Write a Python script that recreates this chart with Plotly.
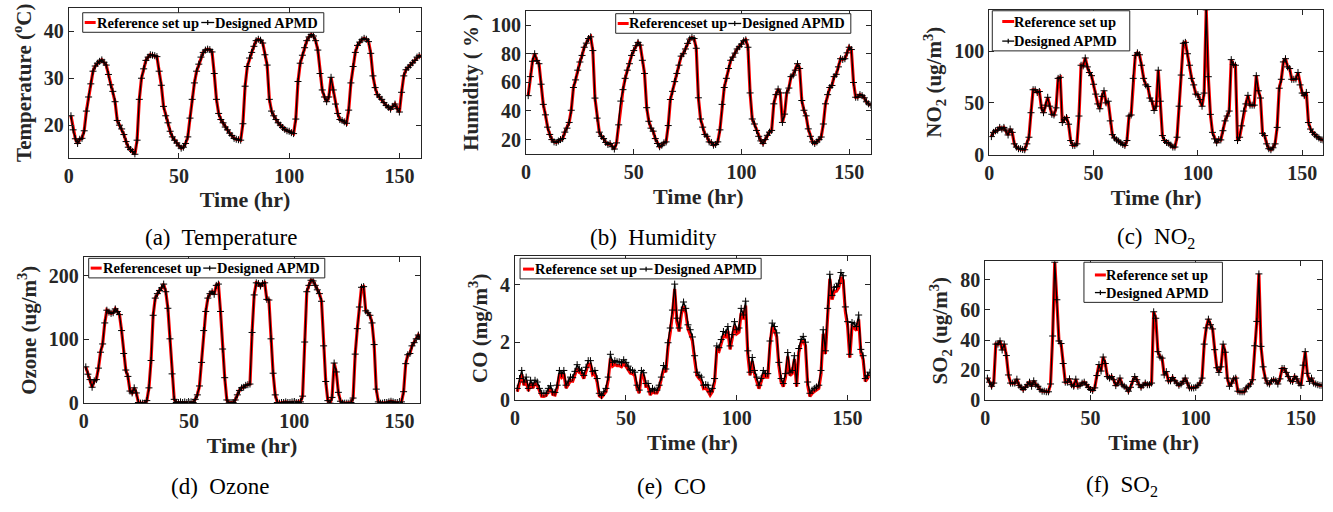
import plotly.graph_objects as go

hours = list(range(1, 161))

temperature = [22, 19, 17.1, 16.1, 17, 17.2, 18.8, 23, 26, 28.8,
               31.5, 32.6, 33.2, 33.6, 33.9, 33.4, 32.8, 30.8, 28.6, 27.2,
               25, 21, 20, 19.2, 18, 16.5, 15.3, 14.8, 14.4, 13.8,
               16.8, 25.5, 30, 32, 33.8, 34.5, 35, 34.9, 34.8, 34.6,
               31.5, 28.5, 24, 22, 20.5, 18.7, 17.5, 16.8, 16.2, 15.6,
               15.1, 15.3, 16.1, 17.5, 21.5, 25.5, 29, 31.5, 33, 34.5,
               35.5, 36, 36.2, 36.1, 35.6, 31, 25.5, 22.5, 21.2, 20.5,
               19.6, 19, 18.3, 17.8, 17.2, 17, 16.9, 16.8, 20.3, 28.3,
               32.5, 34.3, 35.5, 36.8, 38, 38.3, 38.1, 37.5, 35, 32.8,
               25.5, 23, 22, 21.2, 20.5, 20, 19.5, 19.1, 18.8, 18.7,
               18.4, 18.2, 21.3, 29.3, 33.2, 34.9, 36.5, 38, 38.8, 39.3,
               39, 38, 36, 31, 27.5, 26, 25, 26, 30.2, 27.5,
               24.5, 22.5, 21.2, 21, 20.7, 20.4, 23.2, 29, 32.5, 35.5,
               37, 37.7, 38.2, 38.5, 38.3, 37.8, 35.3, 30.5, 28, 26.5,
               26, 25.5, 24.8, 24.2, 23.8, 23.4, 24, 24.5, 23.5, 22.8,
               27, 30.5, 31.8, 32.3, 32.8, 33.3, 33.8, 34.5, 34.8, 34.6]

humidity = [50.7, 64, 74.7, 80, 75.3, 73, 58.7, 44.6, 37.3, 28.7,
            23.6, 20, 18.4, 18, 19, 20, 20.7, 25.2, 28, 32,
            40.5, 56.4, 61.7, 68.5, 74.2, 78.8, 84.5, 87.4, 90.6, 91.8,
            82.2, 49, 35, 25.2, 22.3, 20.7, 18, 16.6, 17.3, 15,
            13.4, 17.7, 30.3, 46.9, 54.9, 62.8, 68.5, 73, 78.8, 82.2,
            85.6, 87.9, 86, 75.4, 66.2, 42.3, 32.8, 28, 25.9, 20.7,
            17.3, 15, 16.1, 17.7, 18.4, 29.8, 48, 53.7, 60.5, 66.2,
            72, 78.3, 80, 83.3, 87.2, 90.2, 91.3, 90.6, 83.8, 49.2,
            34.4, 28.7, 23.6, 22.3, 18.4, 18, 16.1, 16.6, 18.4, 26.8,
            44.6, 56.4, 62.8, 69.7, 75.4, 77.6, 80.4, 83.3, 84.9, 86.7,
            89, 89.7, 84.5, 52.6, 34.4, 30.9, 26.4, 22.3, 19.1, 17.3,
            20, 23, 25.2, 26.4, 45, 51.4, 55.3, 52.6, 32, 37.8,
            52.6, 56, 64, 65.1, 68.5, 73, 69.7, 47.3, 40.5, 36.6,
            27.5, 22.3, 18.4, 17.3, 18.4, 20, 21.8, 30.9, 45, 51.4,
            56.4, 57.8, 64, 65.6, 70.8, 76.5, 76, 76.5, 80.6, 84.5,
            82.9, 59.9, 49.6, 49.6, 51.4, 50.7, 49.2, 46.4, 45, 44.1]

no2 = [17.4, 21.5, 23, 23.7, 26.3, 24.7, 26.3, 23, 19, 24.7,
       21.5, 10.4, 7.3, 5.7, 5.7, 5, 4.7, 10.4, 16.8, 40.5,
       62.7, 62.7, 60, 61, 45.2, 40.5, 47.8, 55.4, 46.8, 39,
       38.3, 45.2, 73.7, 74.7, 31, 34.2, 35.8, 29.4, 13.6, 8.9,
       8.9, 10.4, 37.3, 86.4, 85.8, 93.4, 84.8, 79.4, 76.3, 68,
       58.5, 49, 44.3, 56.3, 61.7, 50, 51.6, 32.6, 19.3, 16.1,
       14.2, 13, 11.4, 9.8, 8.9, 13.6, 37.3, 38.3, 73.7, 95.9,
       98.4, 96.5, 86.4, 73.7, 67.4, 65.8, 54.7, 51.6, 42.7, 46.8,
       81.6, 51.6, 18.4, 13.6, 11.7, 11, 9.2, 7.3, 7.3, 16.8,
       46.8, 76.9, 107.6, 108.5, 97.5, 86.4, 73.7, 67.4, 58.5, 57.9,
       53.2, 46.8, 59.5, 140, 75.3, 38.9, 21.5, 15.2, 11.4, 14.6,
       14.2, 23.1, 32.6, 37.3, 42.1, 91.8, 87, 86.4, 13.6, 16.8,
       27.8, 42.1, 49, 57.3, 47.8, 47.8, 47.8, 76.3, 61.7, 54.7,
       20.6, 18.4, 10.4, 5.7, 4.7, 6.6, 10.4, 26.3, 64.2, 72.8,
       89.6, 92.7, 84.8, 83.2, 72.8, 72.8, 73.1, 79.4, 67.4, 59.5,
       57, 60.1, 31, 24.7, 21.5, 19.3, 17.4, 16.1, 14.6, 14.2]

ozone = [57, 45.5, 37, 25, 35, 37, 55, 80, 93, 126,
         146, 143, 141, 142, 148, 144, 139, 114, 78, 52,
         42, 19, 16, 24, 16, 1, 0, 0, 0, 4,
         24, 67, 138, 165, 172, 177, 181, 187, 175, 149,
         101, 46, 6, 1, 1, 2, 1, 2, 1, 1,
         2, 1, 6, 13, 27, 64, 114, 144, 165, 172,
         175, 171, 185, 187, 144, 85, 40, 5, 0, 1,
         1, 5, 13, 20, 24, 25, 28, 29, 30, 111,
         170, 189, 188, 184, 188, 189, 163, 162, 101, 47,
         13, 1, 0, 1, 1, 2, 1, 1, 2, 2,
         1, 1, 2, 11, 96, 175, 185, 193, 192, 185,
         178, 172, 160, 90, 34, 4, 0, 9, 63, 49,
         17, 3, 0, 0, 0, 0, 1, 8, 77, 117,
         151, 182, 183, 145, 142, 138, 126, 92, 22, 2,
         0, 0, 1, 1, 2, 3, 2, 1, 1, 1,
         2, 18, 62, 76, 78, 90, 95, 101, 107, 102]

co_apmd = [0.41, 0.75, 1.03, 0.63, 0.8, 0.41, 0.69, 0.52, 0.69, 0.63,
           0.41, 0.24, 0.24, 0.24, 0.41, 0.5, 0.29, 0.27, 0.52, 1.03,
           0.92, 1.03, 0.52, 0.66, 0.8, 0.78, 1.0, 1.23, 1.08, 1.03,
           0.86, 1.14, 1.37, 1.37, 1.0, 1.03, 0.75, 0.24, 0.16, 0.29,
           0.41, 0.8, 1.59, 1.31, 1.37, 1.33, 1.33, 1.29, 1.4, 1.31,
           1.18, 1.05, 1.03, 0.97, 0.52, 0.35, 1.03, 0.95, 0.58, 0.58,
           0.29, 0.41, 0.35, 0.35, 0.52, 0.8, 1.2, 1.08, 1.99, 2.5,
           3.12, 4.02, 2.84, 2.5, 3.12, 3.4, 3.18, 2.61, 2.44, 2.19,
           1.54, 0.97, 0.86, 0.8, 0.52, 0.54, 0.52, 0.29, 0.41, 0.75,
           1.88, 1.82, 2.1, 2.38, 2.33, 2.55, 1.88, 2.27, 2.72, 2.44,
           2.5, 3.18, 2.95, 3.43, 1.71, 0.97, 1.48, 1.03, 0.8, 0.52,
           0.75, 1.03, 0.92, 0.92, 2.05, 2.67, 2.55, 2.33, 1.31, 0.75,
           0.58, 0.92, 1.65, 0.97, 1.03, 1.54, 0.58, 1.79, 2.1, 2.21,
           2.01, 0.63, 0.24, 0.35, 0.41, 0.46, 0.52, 1.03, 2.44, 1.71,
           3.18, 4.36, 3.63, 3.91, 3.93, 4.05, 4.42, 4.31, 3.23, 2.72,
           1.59, 2.69, 2.64, 2.55, 2.95, 1.76, 1.54, 0.75, 0.86, 0.97]

co_ref = [0.3, 0.65, 0.9, 0.52, 0.68, 0.32, 0.58, 0.42, 0.58, 0.52,
          0.32, 0.14, 0.13, 0.16, 0.3, 0.4, 0.2, 0.18, 0.42, 0.9,
          0.8, 0.92, 0.42, 0.55, 0.68, 0.66, 0.88, 1.1, 0.96, 0.92,
          0.75, 1.02, 1.25, 1.25, 0.88, 0.92, 0.64, 0.15, 0.1, 0.2,
          0.3, 0.7, 1.45, 1.18, 1.24, 1.2, 1.2, 1.16, 1.27, 1.18,
          1.06, 0.94, 0.92, 0.86, 0.42, 0.25, 0.9, 0.84, 0.48, 0.48,
          0.18, 0.3, 0.25, 0.25, 0.42, 0.7, 1.08, 0.97, 1.85, 2.35,
          2.98, 3.85, 2.7, 2.38, 2.98, 3.25, 3.04, 2.48, 2.3, 2.06,
          1.42, 0.86, 0.75, 0.68, 0.4, 0.42, 0.32, 0.18, 0.3, 0.64,
          1.75, 1.7, 1.96, 2.24, 2.2, 2.4, 1.76, 2.14, 2.58, 2.3,
          2.36, 3.02, 2.8, 3.28, 1.58, 0.86, 1.35, 0.92, 0.68, 0.4,
          0.64, 0.92, 0.8, 0.8, 1.92, 2.54, 2.42, 2.2, 1.2, 0.64,
          0.47, 0.8, 1.52, 0.86, 0.92, 1.42, 0.47, 1.66, 1.97, 2.08,
          1.88, 0.52, 0.13, 0.24, 0.3, 0.35, 0.41, 0.9, 2.3, 1.6,
          3.02, 4.2, 3.48, 3.76, 3.78, 3.9, 4.26, 4.15, 3.08, 2.58,
          1.47, 2.55, 2.5, 2.42, 2.8, 1.64, 1.42, 0.65, 0.76, 0.87]

so2 = [14.7, 12, 9.3, 11.4, 37.3, 37.3, 39.4, 33.4, 37.3, 29.7,
       16.8, 11.4, 11.4, 11.4, 14, 9.9, 8.6, 7.1, 8.6, 10.3,
       12, 9.3, 12.9, 10.3, 9.3, 7.1, 6, 6, 5.6, 5.6,
       10.8, 42.7, 91.8, 66.8, 39.4, 37.7, 24.4, 12, 12, 14.2,
       10.3, 9.3, 14, 9.3, 9.9, 11.4, 12, 10.3, 8.6, 7.1,
       6.5, 8.2, 16.4, 23.7, 19.4, 28.7, 24.4, 15.7, 14.7, 15.7,
       13.6, 9.7, 11.4, 14.7, 10.3, 9.3, 8.2, 6, 8.6, 12.5,
       15.7, 13.6, 10.3, 8.6, 9.9, 11.4, 10.3, 10.3, 11.4, 58.8,
       54.5, 32.3, 28.7, 28, 16.8, 19, 12.9, 12.9, 15.1, 12.9,
       11.4, 9.9, 10.8, 12.5, 14.7, 11.4, 8.2, 8.2, 8.2, 8.6,
       9.9, 11.4, 14.7, 37.3, 48.1, 53.9, 50.2, 47.4, 33.6, 21.6,
       18.5, 22.2, 37.3, 31.9, 14.7, 9.3, 11.4, 14.2, 14.7, 6,
       5.6, 5.6, 5.6, 8.2, 9.3, 10.8, 13.6, 36.2, 52.4, 84,
       35.8, 22.2, 14.7, 11.4, 10.8, 12.9, 13.6, 12.9, 10.8, 14.2,
       21.1, 21.1, 18.5, 15.7, 12.9, 12.5, 15.7, 14.2, 11.4, 9.9,
       23.3, 32.3, 17.9, 12.5, 14.7, 11.4, 10.8, 10.3, 9.9, 9.9]

x_ticks = [0, 50, 100, 150]
x_title = "Time (hr)"
captions = ["(a)  Temperature", "(b)  Humidity", "(c)  NO<sub>2</sub>",
            "(d)  Ozone", "(e)  CO", "(f)  SO<sub>2</sub>"]
y_titles = ["Temperature (<sup>o</sup>C)", "Humidity ( % )",
            "NO<sub>2</sub> (ug/m<sup>3</sup>)", "Ozone (ug/m<sup>3</sup>)",
            "CO (mg/m<sup>3</sup>)", "SO<sub>2</sub> (ug/m<sup>3</sup>)"]
ref_names = ["Reference set up", "Referenceset up", "Reference set up",
             "Referenceset up", "Reference set up", "Reference set up"]
apmd_name = "Designed APMD"

W, H = 1333, 512
FONT = "Liberation Serif, Times New Roman, serif"
AX = "#262626"

panels = [
    dict(ref=temperature, apmd=temperature, box=(64, 8, 418, 161), yr=[13.1, 45], dt=10,
         lbox=(78, 13, 320, 33), lref=(80, 91, 91, 23), lapm=(197, 210, 210, 23), cap=(217, 243)),
    dict(ref=humidity, apmd=humidity, box=(523, 11, 869, 157), yr=[10.2, 110], dt=20,
         lbox=(613, 14, 849, 34), lref=(615, 626, 625, 24), lapm=(726, 739, 739, 24), cap=(651, 243)),
    dict(ref=no2, apmd=no2, box=(988, 10, 1323, 158), yr=[0, 140], dt=50,
         lbox=(991, 11, 1129, 52), lref=(1001, 1013, 1012, 22), lapm=(1001, 1013, 1012, 42), cap=(1155, 243)),
    dict(ref=ozone, apmd=ozone, box=(79, 263, 417, 412), yr=[0, 229], dt=100,
         lbox=(84, 264, 321, 284), lref=(86, 97, 97, 274), lapm=(199, 212, 212, 274), cap=(216, 497)),
    dict(ref=co_ref, apmd=co_apmd, box=(512, 262, 868, 409), yr=[0, 4.98], dt=2,
         lbox=(517, 264, 759, 285), lref=(520, 531, 531, 275), lapm=(637, 650, 650, 275), cap=(669, 497)),
    dict(ref=so2, apmd=so2, box=(984, 267, 1322, 409), yr=[0, 92.4], dt=20,
         lbox=(1083, 268, 1222, 309), lref=(1094, 1105, 1104, 281), lapm=(1094, 1105, 1104, 299), cap=(1121, 497)),
]


def px(x):
    return x / W


def py(y):
    return 1 - y / H


fig = go.Figure()
layout = dict(width=W, height=H, margin=dict(l=0, r=0, t=0, b=0),
              paper_bgcolor="white", plot_bgcolor="white", showlegend=False,
              font=dict(family=FONT, color=AX), annotations=[], shapes=[])

LEGFONT = dict(family=FONT, size=14.5, color="black", weight="bold")

for i, p in enumerate(panels):
    n = i + 1
    xa = "x" if n == 1 else f"x{n}"
    ya = "y" if n == 1 else f"y{n}"
    x0, y0, x1, y1 = p["box"]
    fig.add_trace(go.Scatter(x=hours, y=p["ref"], mode="lines", name=ref_names[i],
                             line=dict(color="#ff0000", width=3.2),
                             xaxis=xa, yaxis=ya))
    fig.add_trace(go.Scatter(x=hours, y=p["apmd"], mode="lines+markers", name=apmd_name,
                             line=dict(color="black", width=1.3),
                             marker=dict(symbol="cross-thin", size=5, color="black",
                                         line=dict(color="black", width=1)),
                             xaxis=xa, yaxis=ya))
    common = dict(showline=True, linecolor=AX, linewidth=1, mirror="ticks",
                  ticks="inside", ticklen=5, tickcolor=AX, showgrid=False,
                  zeroline=False, tickfont=dict(family=FONT, size=20, color=AX, weight="bold"))
    layout["xaxis" if n == 1 else f"xaxis{n}"] = dict(
        domain=[px(x0), px(x1)], anchor=ya, range=[0, 160], tickvals=x_ticks,
        title=dict(text=x_title, standoff=6,
                   font=dict(family=FONT, size=22, color=AX, weight="bold")),
        **common)
    layout["yaxis" if n == 1 else f"yaxis{n}"] = dict(
        domain=[py(y1), py(y0)], anchor=xa, range=p["yr"], dtick=p["dt"],
        tick0=0,
        title=dict(text=y_titles[i], standoff=6,
                   font=dict(family=FONT, size=21, color=AX, weight="bold")),
        **common)

    bx0, by0, bx1, by1 = p["lbox"]
    layout["shapes"].append(dict(type="rect", xref="paper", yref="paper",
                                 x0=px(bx0), x1=px(bx1), y0=py(by1), y1=py(by0),
                                 fillcolor="white", line=dict(color=AX, width=1), layer="above"))
    sx0, sx1, tx, ty = p["lref"]
    layout["shapes"].append(dict(type="line", xref="paper", yref="paper",
                                 x0=px(sx0), x1=px(sx1), y0=py(ty), y1=py(ty),
                                 line=dict(color="#ff0000", width=3)))
    layout["annotations"].append(dict(text=ref_names[i], x=px(tx), y=py(ty), xref="paper",
                                      yref="paper", xanchor="left", yanchor="middle",
                                      showarrow=False, borderpad=0, font=LEGFONT))
    sx0, sx1, tx, ty = p["lapm"]
    cx = (sx0 + sx1) / 2
    layout["shapes"].append(dict(type="line", xref="paper", yref="paper",
                                 x0=px(sx0), x1=px(sx1), y0=py(ty), y1=py(ty),
                                 line=dict(color="black", width=1.3)))
    layout["shapes"].append(dict(type="line", xref="paper", yref="paper",
                                 x0=px(cx), x1=px(cx), y0=py(ty - 2.5), y1=py(ty + 2.5),
                                 line=dict(color="black", width=1.2)))
    layout["annotations"].append(dict(text=apmd_name, x=px(tx), y=py(ty), xref="paper",
                                      yref="paper", xanchor="left", yanchor="middle",
                                      showarrow=False, borderpad=0, font=LEGFONT))

    layout["annotations"].append(dict(
        text=captions[i], x=px(p["cap"][0]), y=py(p["cap"][1]), xref="paper",
        yref="paper", xanchor="center", yanchor="middle", showarrow=False,
        font=dict(family=FONT, size=23, color="black")))

fig.update_layout(**layout)
fig.write_html("out.html", config={"displayModeBar": False},
               post_script="document.body.style.margin='0';")
